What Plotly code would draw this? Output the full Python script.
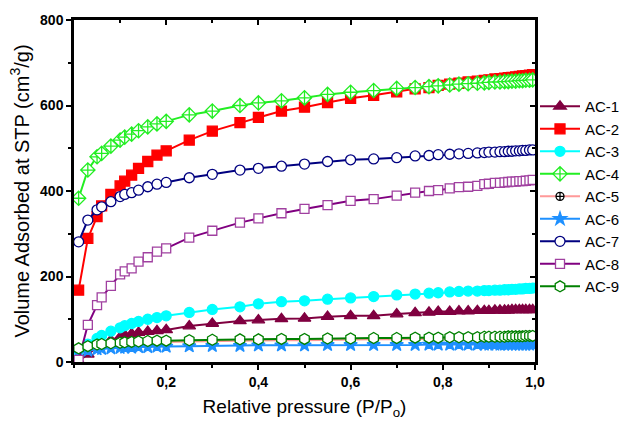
import plotly.graph_objects as go

# Relative pressure points (P/Po) shared by all isotherms
p_rel = [0.01, 0.03, 0.05, 0.06, 0.08, 0.10, 0.11, 0.125, 0.14, 0.16, 0.18, 0.20,
         0.25, 0.30, 0.36, 0.40, 0.45, 0.50, 0.55, 0.60, 0.65, 0.70, 0.74, 0.77,
         0.79, 0.815, 0.835, 0.855, 0.875, 0.89, 0.90, 0.913, 0.924, 0.934, 0.942,
         0.95, 0.958, 0.966, 0.973, 0.98, 0.988, 0.995]

# Volume adsorbed at STP (cm3/g) for each sample
ac1 = [2, 18, 35, 42, 51, 58, 63, 66, 69, 71, 73, 75,
       84, 90, 96, 98, 101, 102, 106, 108, 108, 112, 115, 116,
       118, 118, 119, 119, 120, 120, 120, 121, 121, 121, 121,
       122, 122, 122, 122, 122, 122, 122]
ac2 = [168, 289, 340, 365, 392, 412, 423, 437, 453, 469, 484, 494,
       519, 540, 560, 572, 587, 596, 607, 617, 624, 632, 639, 642,
       647, 650, 652, 655, 657, 659, 660, 662, 663, 664, 665,
       666, 667, 668, 669, 670, 671, 672]
ac3 = [25, 42, 55, 62, 72, 80, 85, 90, 95, 100, 104, 108,
       116, 123, 129, 136, 141, 143, 147, 150, 153, 157, 159, 161,
       162, 164, 165, 166, 166, 167, 167, 168, 168, 169, 169,
       170, 170, 171, 171, 172, 172, 173]
ac4 = [383, 449, 480, 488, 505, 519, 526, 533, 541, 550, 557, 563,
       578, 587, 600, 606, 611, 618, 626, 631, 635, 640, 642, 644,
       646, 648, 650, 651, 652, 653, 654, 655, 655, 656, 656,
       657, 657, 658, 658, 659, 659, 660]
ac5 = [29, 34, 38, 39, 41, 42, 43, 44, 45, 46, 47, 47,
       48, 49, 50, 50, 51, 51, 52, 52, 53, 53, 54, 54,
       54, 55, 55, 55, 55, 56, 56, 56, 56, 56, 57,
       57, 57, 57, 57, 58, 58, 58]
ac6 = [22, 27, 30, 31, 32, 33, 34, 34, 35, 35, 36, 36,
       37, 38, 38, 39, 39, 39, 40, 40, 40, 40, 40, 41,
       41, 41, 41, 41, 41, 41, 41, 41, 41, 41, 41,
       41, 41, 41, 41, 41, 41, 41]
ac7 = [281, 332, 356, 363, 375, 387, 392, 396, 402, 410, 416, 420,
       431, 439, 449, 453, 458, 463, 469, 473, 475, 478, 482, 483,
       485, 486, 487, 488, 489, 490, 491, 491, 492, 492, 493,
       493, 494, 494, 495, 495, 496, 496]
ac8 = [5, 87, 133, 151, 178, 205, 212, 219, 235, 245, 258, 266,
       291, 307, 326, 336, 348, 358, 367, 377, 381, 389, 396, 400,
       402, 406, 409, 410, 412, 416, 417, 419, 419, 420, 421,
       422, 422, 423, 423, 424, 425, 426]
ac9 = [32, 37, 41, 42, 44, 45, 46, 47, 48, 49, 50, 50,
       51, 52, 53, 53, 54, 54, 55, 55, 56, 56, 57, 57,
       57, 58, 58, 58, 58, 59, 59, 59, 59, 59, 60,
       60, 60, 60, 60, 61, 61, 61]

names = ["AC-1", "AC-2", "AC-3", "AC-4", "AC-5", "AC-6", "AC-7", "AC-8", "AC-9"]
series = [ac1, ac2, ac3, ac4, ac5, ac6, ac7, ac8, ac9]

x_tick_vals = [0.2, 0.4, 0.6, 0.8, 1.0]
x_tick_text = ["0,2", "0,4", "0,6", "0,8", "1,0"]
y_tick_vals = [0, 200, 400, 600, 800]
y_tick_text = ["0", "200", "400", "600", "800"]

# (line colour, marker symbol, marker fill, marker outline, marker size)
styles = [
    ("#800040", "triangle-up", "#800040", "#800040", 11),
    ("#FF0000", "square", "#FF0000", "#FF0000", 10),
    ("#00FFFF", "circle", "#00FFFF", "#00FFFF", 10),
    ("#22EE22", "diamond-cross", "white", "#22EE22", 11),
    ("#FF9999", "circle-cross", "white", "#000000", 8),
    ("#1E90FF", "star", "#1E90FF", "#1E90FF", 10),
    ("#000080", "circle", "white", "#000080", 10),
    ("#800080", "square", "white", "#A040A0", 9),
    ("#008000", "hexagon", "white", "#008000", 11),
]

fig = go.Figure()

# transparent copy of one series so the top/right frame axes get drawn
fig.add_trace(go.Scatter(x=p_rel, y=ac1, xaxis="x2", yaxis="y2", mode="lines",
                         line=dict(width=0, color="rgba(0,0,0,0)"),
                         showlegend=False, hoverinfo="skip"))

for name, ys, (lc, sym, fill, edge, size) in zip(names, series, styles):
    fig.add_trace(go.Scatter(
        x=p_rel, y=ys, name=name, mode="lines+markers",
        line=dict(color=lc, width=2),
        marker=dict(symbol=sym, color=fill, size=size,
                    line=dict(color=edge, width=1.3)),
    ))

font_family = "Arial, Liberation Sans, sans-serif"
tick_font = dict(family=font_family, size=14, color="black", weight="bold")

fig.update_layout(
    xaxis=dict(
        range=[0, 1.0], tickvals=x_tick_vals, ticktext=x_tick_text,
        ticks="outside", ticklen=5, tickwidth=2, tickcolor="black",
        minor=dict(ticks="outside", dtick=0.1, ticklen=3, tickwidth=2, tickcolor="black"),
        showline=True, linecolor="black", linewidth=2.5,
        showgrid=False, zeroline=False, tickfont=tick_font,
        title=dict(text="Relative pressure (P/P<sub>o</sub>)",
                   font=dict(family=font_family, size=19, color="black"), standoff=12),
    ),
    yaxis=dict(
        range=[0, 800], tickvals=y_tick_vals, ticktext=y_tick_text,
        ticks="outside", ticklen=5, tickwidth=2, tickcolor="black",
        minor=dict(ticks="outside", dtick=100, ticklen=3, tickwidth=2, tickcolor="black"),
        showline=True, linecolor="black", linewidth=2.5,
        showgrid=False, zeroline=False, tickfont=tick_font,
        title=dict(text="Volume Adsorbed at STP (cm<sup>3</sup>/g)",
                   font=dict(family=font_family, size=20, color="black"), standoff=6),
    ),
    # top and right frame with inward ticks, no labels
    xaxis2=dict(
        overlaying="x", side="top", anchor="y2", range=[0, 1.0],
        tickvals=x_tick_vals, showticklabels=False,
        ticks="inside", ticklen=5, tickwidth=2, tickcolor="black",
        minor=dict(ticks="inside", dtick=0.1, ticklen=3, tickwidth=2, tickcolor="black"),
        showline=True, linecolor="black", linewidth=2.5,
        showgrid=False, zeroline=False,
    ),
    yaxis2=dict(
        overlaying="y", side="right", anchor="x2", range=[0, 800],
        tickvals=y_tick_vals, showticklabels=False,
        ticks="inside", ticklen=5, tickwidth=2, tickcolor="black",
        minor=dict(ticks="inside", dtick=100, ticklen=3, tickwidth=2, tickcolor="black"),
        showline=True, linecolor="black", linewidth=2.5,
        showgrid=False, zeroline=False,
    ),
    width=630, height=423,
    margin=dict(l=74, r=95, t=20, b=61, autoexpand=False),
    paper_bgcolor="white", plot_bgcolor="white",
    showlegend=True,
    legend=dict(x=1.0, xanchor="left", y=0.795, yanchor="top",
                font=dict(family=font_family, size=15, color="black"),
                itemwidth=40, tracegroupgap=0,
                bgcolor="rgba(0,0,0,0)"),
)

fig.write_html("out.html")
